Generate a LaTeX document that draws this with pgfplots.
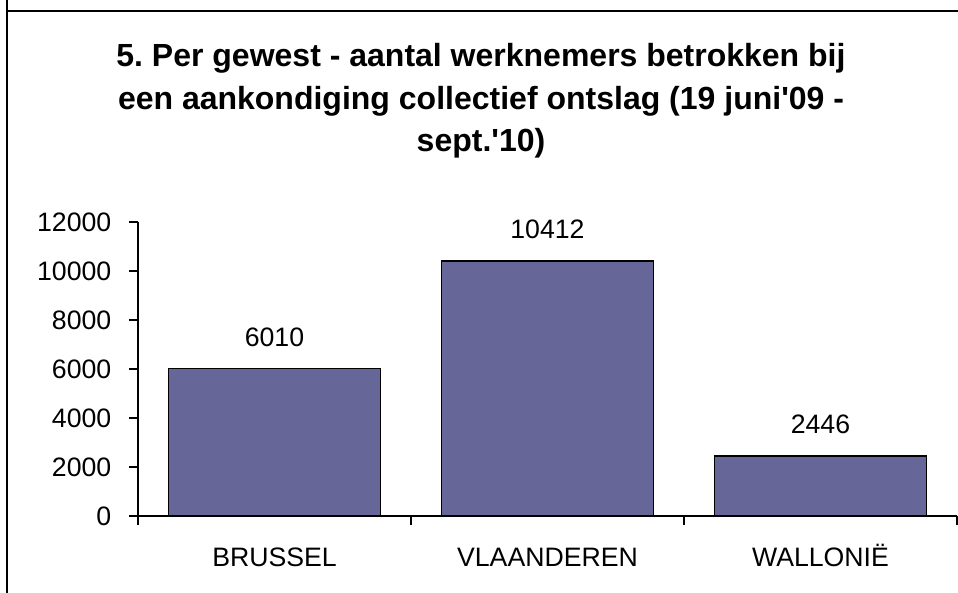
\documentclass[border=0pt]{standalone}
\usepackage{pgfplots}
\pgfplotsset{compat=1.18}
\usepackage{fontspec}
\setmainfont{Liberation Sans}
\definecolor{barblue}{HTML}{666699}
\begin{document}
\frenchspacing
\begin{tikzpicture}[x=0.75pt,y=0.75pt]
\useasboundingbox (0,0) rectangle (958,593);
\draw[line width=1.5pt] (7,600) -- (7,582) -- (970,582);
\draw[line width=1.5pt] (7,582) -- (7,-10);
\node[align=center,font=\fontsize{24}{32}\selectfont\bfseries] at (481,492) {5. Per gewest - aantal werknemers betrokken bij\\een aankondiging collectief ontslag (19 juni\textquotesingle 09 -\\sept.\textquotesingle 10)};
\begin{axis}[
  at={(103.5pt,57.75pt)}, anchor=south west,
  scale only axis, width=614.25pt, height=220.5pt,
  xmin=-0.5, xmax=2.5, ymin=0, ymax=12000,
  axis x line*=bottom, axis y line*=left,
  axis line style={line width=1pt},
  ytick={0,2000,...,12000},
  xtick={-0.5,0.5,1.5,2.5},
  xticklabels={},
  extra x ticks={0,1,2},
  extra x tick labels={BRUSSEL,VLAANDEREN,WALLONIË},
  extra x tick style={major tick length=0pt, tick label style={yshift=-19pt, text height=15pt, text depth=0pt}},
  yticklabel style={xshift=-9.75pt},
  tick align=outside, major tick length=6.75pt,
  tick style={line width=1pt,black},
  ticklabel style={font=\fontsize{20}{24}\selectfont},
  /pgf/number format/assume math mode=true,
  /pgf/number format/set thousands separator={},
  scaled y ticks=false,
  ybar, bar width=159pt,
  nodes near coords,
  nodes near coords style={font=\fontsize{20}{24}\selectfont, yshift=13pt, /pgf/number format/set thousands separator={}},
  clip=false,
]
\addplot[fill=barblue, draw=black, line width=1pt] coordinates {(0,6010) (1,10412) (2,2446)};
\end{axis}
\end{tikzpicture}
\end{document}
